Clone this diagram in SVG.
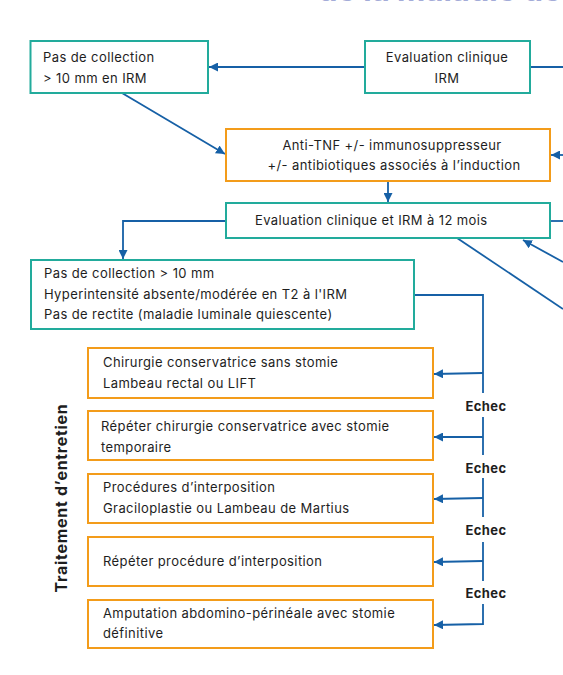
<svg xmlns="http://www.w3.org/2000/svg" width="563" height="675" viewBox="0 0 563 675">
<defs>
<marker id="ah" viewBox="0 0 10 10" refX="10" refY="5" markerWidth="9" markerHeight="9" markerUnits="userSpaceOnUse" orient="auto">
<path d="M0,0 L10,5 L0,10 z" fill="#1660a6"/>
</marker>
<style>
.t{fill:#ffffff;stroke:#22ab9c;stroke-width:2}
.o{fill:#ffffff;stroke:#f39c1a;stroke-width:2}
.tx{font-family:Inter,"Open Sans","Liberation Sans",sans-serif;font-size:13px;letter-spacing:0.4px;fill:#1e1e1e}
.c{fill:none;stroke:#1660a6;stroke-width:1.8}
.a{marker-end:url(#ah)}
.ec{font-family:Inter,"Open Sans","Liberation Sans",sans-serif;font-size:13px;letter-spacing:0.4px;font-weight:bold;fill:#1e1e1e;text-anchor:middle}
</style>
</defs>
<rect width="563" height="675" fill="#ffffff"/>
<text x="318" y="1" font-family="Inter,'Liberation Sans',sans-serif" font-size="31" font-weight="bold" fill="#a4acd8">de la maladie de</text>

<g id="connectors">
<line class="c a" x1="365" y1="67" x2="209" y2="67"/>
<line class="c" x1="530" y1="67" x2="563" y2="67"/>
<line class="c a" x1="122" y1="93" x2="225" y2="154"/>
<line class="c a" x1="563" y1="155" x2="551" y2="155"/>
<line class="c a" x1="388" y1="181" x2="388" y2="202"/>
<polyline class="c a" points="226,221 123,221 123,259"/>
<line class="c" x1="550" y1="221" x2="563" y2="221"/>
<line class="c a" x1="563" y1="262" x2="523" y2="240"/>
<line class="c" x1="457" y1="238" x2="563" y2="309"/>
<polyline class="c" points="414,295 483,295 483,393"/>
<line class="c a" x1="483" y1="373" x2="434" y2="374"/>
<line class="c" x1="483" y1="417" x2="483" y2="455"/>
<line class="c a" x1="483" y1="437" x2="434" y2="437"/>
<line class="c" x1="483" y1="478" x2="483" y2="517"/>
<line class="c a" x1="483" y1="498" x2="434" y2="499"/>
<line class="c" x1="483" y1="542" x2="483" y2="581"/>
<line class="c a" x1="483" y1="561" x2="434" y2="562"/>
<polyline class="c a" points="483,604 483,624 434,625"/>
<text class="ec" x="486" y="410.5">Echec</text>
<text class="ec" x="486" y="472.5">Echec</text>
<text class="ec" x="486" y="534.5">Echec</text>
<text class="ec" x="486" y="597.5">Echec</text>
</g>

<g id="n1">
<rect class="t" x="30.5" y="41" width="177.5" height="52"/>
<text class="tx" x="43" y="61.5">Pas de collection</text>
<text class="tx" x="43" y="82.5">&gt; 10 mm en IRM</text>
</g>
<g id="n2">
<rect class="t" x="365" y="41" width="165" height="52"/>
<text class="tx" x="447" y="61.5" text-anchor="middle">Evaluation clinique</text>
<text class="tx" x="447" y="82.5" text-anchor="middle">IRM</text>
</g>
<g id="n3">
<rect class="o" x="226" y="129" width="324" height="52"/>
<text class="tx" x="392" y="149.5" text-anchor="middle">Anti-TNF +/- immunosuppresseur</text>
<text class="tx" x="394" y="170" text-anchor="middle">+/- antibiotiques associés à l’induction</text>
</g>
<g id="n4">
<rect class="t" x="226" y="203" width="324" height="35"/>
<text class="tx" x="255" y="224.5">Evaluation clinique et IRM à 12 mois</text>
</g>
<g id="n5">
<rect class="t" x="31" y="260" width="383" height="69"/>
<text class="tx" x="44" y="278">Pas de collection &gt; 10 mm</text>
<text class="tx" x="44" y="299">Hyperintensité absente/modérée en T2 à l'IRM</text>
<text class="tx" x="44" y="319">Pas de rectite (maladie luminale quiescente)</text>
</g>
<g id="n6">
<rect class="o" x="88" y="348" width="345" height="50"/>
<text class="tx" x="103" y="367">Chirurgie conservatrice sans stomie</text>
<text class="tx" x="103" y="388">Lambeau rectal ou LIFT</text>
</g>
<g id="n7">
<rect class="o" x="88" y="411" width="345" height="49"/>
<text class="tx" x="101" y="431">Répéter chirurgie conservatrice avec stomie</text>
<text class="tx" x="101" y="452">temporaire</text>
</g>
<g id="n8">
<rect class="o" x="88" y="474" width="345" height="49"/>
<text class="tx" x="103" y="492">Procédures d’interposition</text>
<text class="tx" x="103" y="513">Graciloplastie ou Lambeau de Martius</text>
</g>
<g id="n9">
<rect class="o" x="88" y="537" width="345" height="49"/>
<text class="tx" x="103" y="566">Répéter procédure d’interposition</text>
</g>
<g id="n10">
<rect class="o" x="88" y="600" width="345" height="48"/>
<text class="tx" x="103" y="618">Amputation abdomino-périnéale avec stomie</text>
<text class="tx" x="103" y="638">définitive</text>
</g>
<g id="label">
<text transform="translate(67,498) rotate(-90)" text-anchor="middle" font-family="Inter,'Open Sans','Liberation Sans',sans-serif" font-size="16" letter-spacing="0.7" font-weight="bold" fill="#1e1e1e">Traitement d’entretien</text>
</g>
</svg>
